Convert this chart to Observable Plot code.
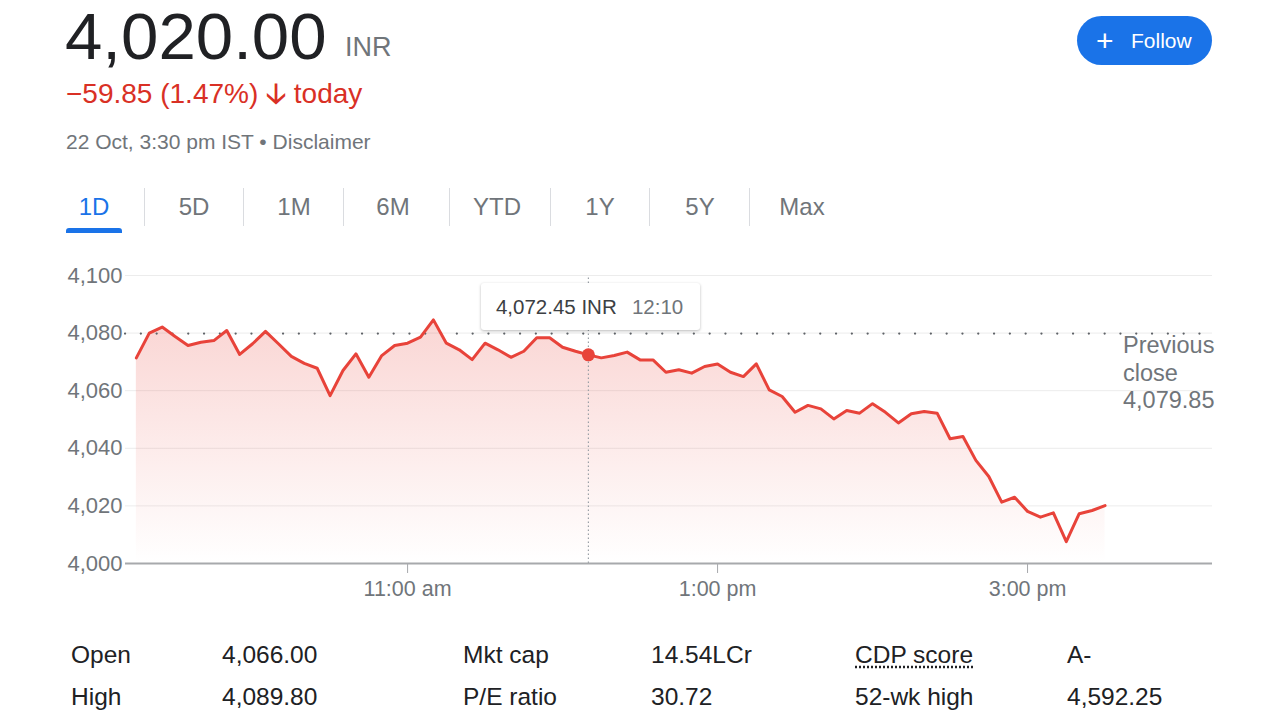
<!DOCTYPE html>
<html><head><meta charset="utf-8">
<script src="https://cdn.jsdelivr.net/npm/d3@7"></script>
<script src="https://cdn.jsdelivr.net/npm/@observablehq/plot@0.6"></script>
<style>
body{margin:0;width:1280px;height:720px;background:#fff;font-family:"Liberation Sans",Arial,sans-serif;position:relative;overflow:hidden}
.abs{position:absolute;white-space:nowrap;line-height:1}
.tab{position:absolute;top:195px;font-size:24px;color:#70757a;line-height:1;transform:translateX(-50%)}
.sep{position:absolute;top:188px;width:1px;height:38px;background:#dadce0}
.st{position:absolute;font-size:24.5px;color:#202124;line-height:1;white-space:nowrap}
#chart{position:absolute;left:0;top:255px}
</style></head><body>
<div class="abs" style="left:65px;top:5px;font-size:64px;color:#202124;transform:scaleX(1.05);transform-origin:0 0">4,020.00</div>
<div class="abs" style="left:345px;top:34px;font-size:27px;color:#70757a">INR</div>
<div class="abs" style="left:66px;top:80px;font-size:28px;color:#d93025">−59.85 (1.47%) <span style="font-weight:bold">&#129123;</span> today</div>
<div class="abs" style="left:66px;top:131px;font-size:21px;color:#70757a">22 Oct, 3:30 pm IST • Disclaimer</div>
<div class="abs" style="left:1077px;top:16px;width:135px;height:49px;border-radius:25px;background:#1a73e8;color:#fff;font-size:21px;line-height:49px">
  <span style="position:absolute;left:19px;top:0;font-size:30px;font-weight:300">+</span><span style="position:absolute;left:54px;top:0">Follow</span></div>

<div id="tabs"></div>
<div id="chart"></div>
<div id="stats"></div>

<script>
// ---- data ----
const times = ["09:15","09:20","09:25","09:30","09:35","09:40","09:45","09:50","09:55",
"10:00","10:05","10:10","10:15","10:20","10:25","10:30","10:35","10:40","10:45","10:50","10:55",
"11:00","11:05","11:10","11:15","11:20","11:25","11:30","11:35","11:40","11:45","11:50","11:55",
"12:00","12:05","12:10","12:15","12:20","12:25","12:30","12:35","12:40","12:45","12:50","12:55",
"13:00","13:05","13:10","13:15","13:20","13:25","13:30","13:35","13:40","13:45","13:50","13:55",
"14:00","14:05","14:10","14:15","14:20","14:25","14:30","14:35","14:40","14:45","14:50","14:55",
"15:00","15:05","15:10","15:15","15:20","15:25","15:30"];
const prices = [4071.4,4080.0,4082.1,4078.8,4075.7,4076.8,4077.4,4080.9,4072.6,
4076.3,4080.6,4076.3,4071.9,4069.5,4067.8,4058.3,4067.0,4072.8,4064.7,4072.2,4075.7,
4076.5,4078.6,4084.6,4076.5,4074.2,4070.8,4076.5,4074.2,4071.6,4073.7,4078.4,4078.4,
4075.1,4073.7,4072.45,4071.4,4072.2,4073.4,4070.7,4070.7,4066.4,4067.3,4066.1,4068.4,
4069.3,4066.4,4064.9,4069.3,4060.3,4058.0,4052.5,4054.9,4053.7,4050.2,4053.1,4052.2,
4055.5,4052.5,4048.8,4052.0,4052.8,4052.2,4043.3,4044.1,4035.8,4030.2,4021.3,4023.0,
4018.1,4016.1,4017.6,4007.6,4017.3,4018.4,4020.1];
const previousClose = 4079.85;
const hoverTime = "12:10";
const hoverPrice = 4072.45;
const yTicks = [4000,4020,4040,4060,4080,4100];
const xTicks = ["11:00","13:00","15:00"];
const xTickLabels = ["11:00 am","1:00 pm","3:00 pm"];
const xDomain = ["09:10.8","16:11.6"];
const tabs = ["1D","5D","1M","6M","YTD","1Y","5Y","Max"];
const statLabels = [["Open","High"],["Mkt cap","P/E ratio"],["CDP score","52-wk high"]];
const statValues = [["4,066.00","4,089.80"],["14.54LCr","30.72"],["A-","4,592.25"]];

const toH = s => { const [h, m] = s.split(":"); return +h + (+m) / 60; };
const data = times.map((t, i) => ({h: toH(t), v: prices[i]}));
const red = "#e8433a";

// ---- tabs ----
const tabX = [94,194,294,393,497,600,700,802];
const sepX = [144,243,343,449,550,649,749];
const tabsEl = document.getElementById("tabs");
tabs.forEach((t, i) => {
  const d = document.createElement("div");
  d.className = "tab"; d.textContent = t; d.style.left = tabX[i] + "px";
  if (i === 0) d.style.color = "#1a73e8";
  tabsEl.appendChild(d);
});
sepX.forEach(x => { const d = document.createElement("div"); d.className = "sep"; d.style.left = x + "px"; tabsEl.appendChild(d); });
const ul = document.createElement("div");
ul.style.cssText = "position:absolute;left:66px;top:228px;width:56px;height:5px;background:#1a73e8;border-radius:3px 3px 0 0";
tabsEl.appendChild(ul);

// ---- chart ----
const plot = Plot.plot({
  width: 1280, height: 360,
  marginLeft: 125, marginRight: 68, marginTop: 20, marginBottom: 52,
  style: {fontFamily: '"Liberation Sans", Arial, sans-serif', color: "#70757a", background: "transparent", overflow: "visible"},
  x: {type: "linear", domain: xDomain.map(toH)},
  y: {domain: [4000, 4100]},
  marks: [
    Plot.gridY(yTicks.slice(1), {stroke: "#ececec", strokeOpacity: 1, strokeWidth: 1}),
    Plot.areaY(data, {x: "h", y1: 4000, y2: "v", fill: "url(#areaGrad)", curve: "linear"}),
    Plot.ruleY([previousClose], {stroke: "#5f6368", strokeWidth: 2.2, strokeDasharray: "0.1,15.7", strokeLinecap: "round"}),
    Plot.ruleX([toH(hoverTime)], {y1: 4000, y2: 4100, stroke: "#9aa0a6", strokeWidth: 1.2, strokeDasharray: "1.5,2.5"}),
    Plot.line(data, {x: "h", y: "v", stroke: red, strokeWidth: 3, strokeLinejoin: "round"}),
    Plot.ruleY([4000], {stroke: "#a7a9ac", strokeWidth: 2}),
    Plot.axisY({ticks: yTicks, tickFormat: d3.format(","), tickSize: 0, tickPadding: 3, fontSize: 22, fill: "#70757a", label: null}),
    Plot.axisX({ticks: xTicks.map(toH), tickFormat: (d, i) => xTickLabels[i], tickSize: 10, tickPadding: 7, fontSize: 21.5, stroke: "#a7a9ac", fill: "#70757a", label: null}),
    Plot.dot([{h: toH(hoverTime), v: hoverPrice}], {x: "h", y: "v", r: 6.5, fill: red, stroke: null})
  ]
});
const svg = d3.select(plot);
const grad = svg.insert("defs", ":first-child").append("linearGradient")
  .attr("id", "areaGrad").attr("x1", 0).attr("x2", 0).attr("y1", 0).attr("y2", 1);
grad.append("stop").attr("offset", "0%").attr("stop-color", red).attr("stop-opacity", 0.22);
grad.append("stop").attr("offset", "100%").attr("stop-color", red).attr("stop-opacity", 0);
document.getElementById("chart").appendChild(plot);

// tooltip + previous close labels
const sx = plot.scale("x");
const px = sx.apply(toH(hoverTime));
const tip = document.createElement("div");
tip.style.cssText = `position:absolute;left:${px - 107}px;top:283px;width:219px;height:47px;background:#fff;border-radius:3px;box-shadow:0 1px 3px rgba(0,0,0,0.28);font-size:20.5px;line-height:47px;white-space:nowrap;color:#3c4043`;
tip.innerHTML = `<span style="position:absolute;left:15px">${d3.format(",.2f")(hoverPrice)} INR</span><span style="position:absolute;left:151px;color:#70757a">${hoverTime}</span>`;
document.body.appendChild(tip);
const pc = document.createElement("div");
pc.style.cssText = "position:absolute;left:1123px;top:332px;font-size:23.5px;line-height:27.5px;color:#70757a;white-space:nowrap";
pc.innerHTML = `Previous<br>close<br>${d3.format(",.2f")(previousClose)}`;
document.body.appendChild(pc);

// ---- stats ----
const labX = [71, 463, 855], valX = [222, 651, 1067], rowTop = [643, 685];
const statsEl = document.getElementById("stats");
statLabels.forEach((col, c) => col.forEach((lab, r) => {
  const a = document.createElement("div"); a.className = "st"; a.textContent = lab;
  a.style.left = labX[c] + "px"; a.style.top = rowTop[r] + "px";
  if (lab === "CDP score") { a.style.textDecoration = "underline dotted"; a.style.textUnderlineOffset = "3px"; }
  statsEl.appendChild(a);
  const b = document.createElement("div"); b.className = "st"; b.textContent = statValues[c][r];
  b.style.left = valX[c] + "px"; b.style.top = rowTop[r] + "px";
  statsEl.appendChild(b);
}));
</script>
</body></html>
